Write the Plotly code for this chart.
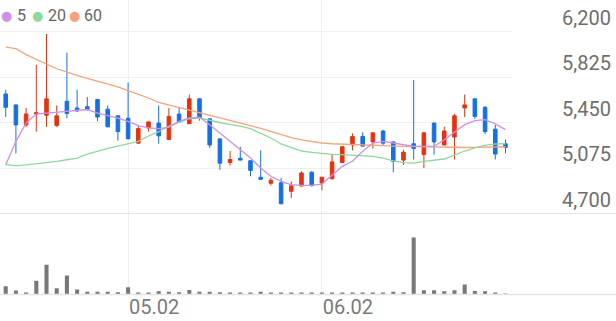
import plotly.graph_objects as go

# ---------------- data ----------------
dates = [
    "2025-04-15", "2025-04-16", "2025-04-17", "2025-04-18", "2025-04-21", "2025-04-22",
    "2025-04-23", "2025-04-24", "2025-04-25", "2025-04-28", "2025-04-29", "2025-04-30",
    "2025-05-02", "2025-05-07", "2025-05-08", "2025-05-09", "2025-05-12", "2025-05-13",
    "2025-05-14", "2025-05-15", "2025-05-16", "2025-05-19", "2025-05-20", "2025-05-21",
    "2025-05-22", "2025-05-23", "2025-05-26", "2025-05-27", "2025-05-28", "2025-05-29",
    "2025-05-30", "2025-06-02", "2025-06-04", "2025-06-05", "2025-06-09", "2025-06-10",
    "2025-06-11", "2025-06-12", "2025-06-13", "2025-06-16", "2025-06-17", "2025-06-18",
    "2025-06-19", "2025-06-20", "2025-06-23", "2025-06-24", "2025-06-25", "2025-06-26",
    "2025-06-27", "2025-06-30",
]
open_ = [5685, 5595, 5430, 5520, 5510, 5425, 5625, 5570, 5580, 5640,
         5560, 5505, 5485, 5280, 5405, 5445, 5310, 5520, 5440, 5645,
         5480, 5315, 5120, 5155, 5135, 4998, 4949, 4954, 4883, 4926,
         5040, 4951, 4987, 5120, 5265, 5335, 5290, 5380, 5290, 5140,
         5275, 5185, 5445, 5265, 5330, 5570, 5645, 5575, 5395, 5275]
high = [5720, 5600, 5570, 5925, 6180, 5590, 6025, 5720, 5660, 5645,
        5590, 5510, 5780, 5425, 5460, 5590, 5570, 5570, 5680, 5650,
        5485, 5320, 5215, 5250, 5140, 5220, 4993, 4993, 4965, 5048,
        5048, 5001, 5190, 5255, 5360, 5370, 5365, 5390, 5295, 5225,
        5800, 5370, 5450, 5415, 5520, 5680, 5645, 5585, 5430, 5310]
low = [5495, 5195, 5415, 5375, 5415, 5415, 5485, 5540, 5550, 5460,
       5410, 5300, 5315, 5275, 5375, 5275, 5310, 5450, 5440, 5465,
       5240, 5060, 5095, 5140, 5007, 4979, 4932, 4778, 4828, 4924,
       4924, 4891, 4979, 5115, 5220, 5255, 5235, 5265, 5040, 5100,
       5145, 5075, 5185, 5260, 5145, 5495, 5480, 5355, 5145, 5195]
close = [5575, 5430, 5520, 5530, 5645, 5505, 5525, 5545, 5555, 5495,
         5415, 5375, 5315, 5400, 5455, 5340, 5500, 5455, 5645, 5485,
         5265, 5115, 5145, 5140, 5055, 4982, 4974, 4780, 4929, 5034,
         4929, 4999, 5125, 5250, 5335, 5255, 5365, 5280, 5130, 5205,
         5235, 5365, 5290, 5380, 5505, 5595, 5500, 5375, 5190, 5245]
volume = [25, 12, 5, 42, 90, 19, 58, 15, 8, 8,
          8, 7, 22, 6, 6, 10, 8, 7, 14, 8,
          8, 7, 4, 6, 6, 8, 4, 6, 5, 5,
          5, 5, 5, 5, 6, 6, 6, 6, 8, 7,
          173, 13, 13, 10, 13, 30, 11, 10, 4, 1]
ma5 = [5102, 5295, 5446, 5520, 5528, 5536, 5547, 5555, 5557, 5528,
       5509, 5487, 5460, 5424, 5405, 5399, 5410, 5460, 5487, 5493,
       5432, 5363, 5295, 5226, 5157, 5075, 5007, 4965, 4937, 4932,
       4932, 4943, 5020, 5089, 5130, 5213, 5281, 5295, 5281, 5267,
       5254, 5254, 5254, 5308, 5372, 5432, 5465, 5473, 5438, 5391]
ma20 = [5102, 5094, 5100, 5108, 5116, 5130, 5143, 5157, 5190, 5215,
        5236, 5256, 5275, 5295, 5339, 5374, 5421, 5454, 5481, 5487,
        5466, 5450, 5433, 5421, 5399, 5359, 5322, 5273, 5244, 5215,
        5203, 5193, 5188, 5185, 5180, 5174, 5170, 5157, 5133, 5120,
        5116, 5130, 5141, 5149, 5182, 5215, 5240, 5262, 5273, 5275]
ma60 = [6072, 6058, 6009, 5968, 5932, 5893, 5864, 5839, 5814, 5790,
        5767, 5743, 5712, 5685, 5652, 5615, 5594, 5575, 5555, 5534,
        5509, 5487, 5465, 5446, 5424, 5401, 5376, 5347, 5326, 5306,
        5293, 5281, 5275, 5273, 5269, 5265, 5262, 5259, 5256, 5254,
        5250, 5246, 5244, 5244, 5244, 5244, 5245, 5246, 5248, 5250]
price_ticks = [4700, 5075, 5450, 5825, 6200]
price_tick_labels = ["4,700", "5,075", "5,450", "5,825", "6,200"]
date_ticks = ["2025-05-02", "2025-06-02"]
date_tick_labels = ["05.02", "06.02"]
ma_names = ["5", "20", "60"]

# ---------------- style ----------------
W, H = 616, 321
RED = "#e8320f"
BLUE = "#1570e6"
MA_COLORS = ["#d08fe8", "#8fd89c", "#f6a37c"]
GRID = "#efefef"
SEP = "#e4e4e4"
FONT = "Roboto"
PLOT_RIGHT = 512 / W


def py(px):
    return 1 - px / H


price_bottom_px, price_grid_top_px = 213.5, 31.5
per_px = (price_ticks[-1] - price_ticks[0]) / (price_bottom_px - price_grid_top_px)
price_top = price_ticks[-1] + price_grid_top_px * per_px
vol_bottom_px = 294.5

fig = go.Figure()
fig.add_trace(go.Candlestick(
    x=dates, open=open_, high=high, low=low, close=close,
    increasing=dict(line=dict(color=RED, width=1), fillcolor=RED),
    decreasing=dict(line=dict(color=BLUE, width=1), fillcolor=BLUE),
    xaxis="x", yaxis="y", showlegend=False, hoverinfo="skip",
))
for vals, col in zip([ma60, ma20, ma5], MA_COLORS[::-1]):
    fig.add_trace(go.Scatter(
        x=dates, y=vals, mode="lines", line=dict(color=col, width=1.3),
        xaxis="x", yaxis="y", showlegend=False, hoverinfo="skip",
    ))
fig.add_trace(go.Bar(
    x=dates, y=volume, marker=dict(color="#787878", line=dict(width=0)),
    width=0.4, xaxis="x2", yaxis="y2", showlegend=False, hoverinfo="skip",
))

xr = [-0.56, len(dates) - 1 + 0.64]
common_x = dict(type="category", range=xr, domain=[0, PLOT_RIGHT], tickvals=date_ticks,
                showgrid=True, gridcolor=GRID, gridwidth=1, zeroline=False,
                showline=False, ticks="", fixedrange=True, automargin=False)
fig.update_layout(
    width=W, height=H, margin=dict(l=0, r=0, t=0, b=0, autoexpand=False),
    paper_bgcolor="white", plot_bgcolor="white",
    boxgap=0.5,
    xaxis=dict(**common_x, anchor="y", showticklabels=False, rangeslider=dict(visible=False)),
    xaxis2=dict(**common_x, anchor="y2", showticklabels=True, ticktext=date_tick_labels,
                ticklabelshift=26, ticklabelstandoff=-2,
                tickfont=dict(family=FONT, size=20, color="#7a7a7a")),
    yaxis=dict(domain=[py(price_bottom_px), 1], range=[price_ticks[0], price_top],
               side="right", anchor="x", tickvals=price_ticks, ticktext=price_tick_labels,
               showgrid=True, gridcolor=GRID, zeroline=False, ticks="", automargin=False,
               ticklabelshift=-14, ticklabelstandoff=49,
               tickfont=dict(family=FONT, size=20, color="#6e6e6e")),
    yaxis2=dict(domain=[py(vol_bottom_px), py(price_bottom_px)], range=[0, 246],
                anchor="x2", showgrid=False, zeroline=False, showticklabels=False,
                ticks="", automargin=False),
    shapes=[
        dict(type="line", xref="paper", yref="paper", x0=0, x1=1,
             y0=py(price_bottom_px), y1=py(price_bottom_px), line=dict(color=SEP, width=1)),
        dict(type="line", xref="paper", yref="paper", x0=0, x1=1,
             y0=py(vol_bottom_px), y1=py(vol_bottom_px), line=dict(color=SEP, width=1.5)),
    ],
)

# legend (dot + label)
dot_x = [6, 37, 74]
text_x = [16, 47, 83]
annotations = []
for name, col, dx, tx in zip(ma_names, MA_COLORS, dot_x, text_x):
    annotations.append(dict(xref="paper", yref="paper", x=dx / W, y=py(15), text="●",
                            showarrow=False, xanchor="center", yanchor="middle",
                            font=dict(family="DejaVu Sans", size=13, color=col)))
    annotations.append(dict(xref="paper", yref="paper", x=tx / W, y=py(15), text=name,
                            showarrow=False, xanchor="left", yanchor="middle",
                            font=dict(family=FONT, size=16, color="#666666"), borderpad=0))
fig.update_layout(annotations=annotations)

fig.write_html("out.html")
